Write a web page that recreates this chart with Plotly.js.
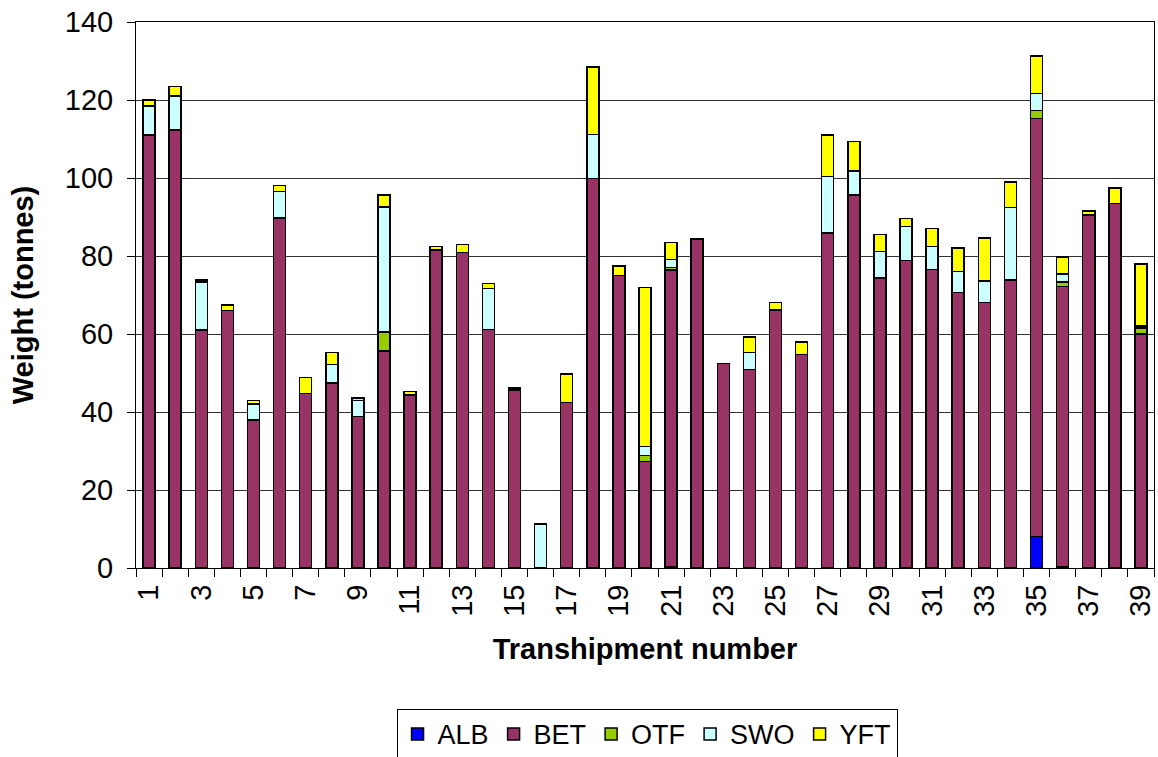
<!DOCTYPE html>
<html>
<head>
<meta charset="utf-8">
<script src="https://cdn.plot.ly/plotly-3.0.1.min.js"></script>
<style>html,body{margin:0;padding:0;background:#fff;}#chart{width:1158px;height:757px;}</style>
</head>
<body>
<div id="chart"></div>
<script>
const transhipments = [1,2,3,4,5,6,7,8,9,10,11,12,13,14,15,16,17,18,19,20,21,22,23,24,25,26,27,28,29,30,31,32,33,34,35,36,37,38,39];
const ALB = [0,0,0,0,0,0,0,0,0,0,0,0,0,0,0,0,0,0,0,0,0.4,0,0,0,0,0,0,0,0,0,0,0,0,0,8.1,0.4,0,0,0];
const BET = [111,112.3,61,66,38,89.8,44.7,47.5,38.9,55.7,44.3,81.5,80.9,61.2,45.6,0,42.4,99.9,75,27.3,76,84.4,52.5,50.9,66.2,54.8,85.9,95.6,74.3,78.8,76.6,70.6,68.1,73.9,107.2,71.8,90.5,93.5,60];
const OTF = [0,0,0,0,0,0,0,0,0,4.8,0,0,0,0,0.6,0,0,0,0,1.6,0.7,0,0,0,0,0,0,0,0,0,0,0,0,0,2,1.1,0,0,1.5];
const SWO = [7.5,8.7,12.3,0,4.1,6.7,0,4.7,4,32.1,0,0,0,10.5,0,11.3,0,11.2,0,2.3,2,0,0,4.4,0,0,14.5,6.2,6.8,8.8,5.9,5.4,5.5,18.6,4.4,2.1,0,0,0.5];
const YFT = [1.5,2.5,0.6,1.4,0.9,1.6,4.1,3.1,0.7,3,0.9,0.9,2,1.2,0,0,7.4,17.3,2.4,40.7,4.4,0,0,3.9,1.9,3.2,10.6,7.5,4.4,2,4.5,6.1,11,6.5,9.6,4.3,1.1,3.9,15.9];
const tickLabels = ["1","3","5","7","9","11","13","15","17","19","21","23","25","27","29","31","33","35","37","39"];
const tickPositions = [1,3,5,7,9,11,13,15,17,19,21,23,25,27,29,31,33,35,37,39];
const boundaries = [0.5,1.5,2.5,3.5,4.5,5.5,6.5,7.5,8.5,9.5,10.5,11.5,12.5,13.5,14.5,15.5,16.5,17.5,18.5,19.5,20.5,21.5,22.5,23.5,24.5,25.5,26.5,27.5,28.5,29.5,30.5,31.5,32.5,33.5,34.5,35.5,36.5,37.5,38.5,39.5];

const series = [
  {name:'ALB', y:ALB, color:'#0000FF'},
  {name:'BET', y:BET, color:'#993366'},
  {name:'OTF', y:OTF, color:'#99CC00'},
  {name:'SWO', y:SWO, color:'#CCFFFF'},
  {name:'YFT', y:YFT, color:'#FFFF00'}
];
const font = 'Liberation Sans, Arial, sans-serif';
const traces = series.map(s => ({
  type:'bar', name:s.name, x:transhipments, y:s.y,
  marker:{color:s.color, line:{color:'#000', width:1.5}},
  hoverinfo:'x+y+name'
}));

const layout = {
  width:1158, height:757,
  barmode:'stack', bargap:0.54,
  margin:{l:136, r:4, t:22, b:189, autoexpand:false},
  paper_bgcolor:'#fff', plot_bgcolor:'#fff',
  font:{family:font, size:27, color:'#000'},
  xaxis:{
    range:[0.5,39.5], tickmode:'array', tickvals:tickPositions, ticktext:tickLabels,
    tickangle:-90, ticks:'', showgrid:false, zeroline:false,
    showline:true, linecolor:'#000', linewidth:1, mirror:true,
    tickfont:{size:29}, ticklabelstandoff:4,
    minor:{tickmode:'array', tickvals:boundaries, ticks:'outside', ticklen:8, tickcolor:'#000', tickwidth:1, showgrid:false},
    title:{text:'Transhipment number', font:{size:29, family:font, weight:'bold'}, standoff:22},
    automargin:false
  },
  yaxis:{
    range:[0,140], dtick:20, tick0:0, ticks:'outside', ticklen:8, tickcolor:'#000',
    showgrid:true, gridcolor:'#333', gridwidth:1, zeroline:false,
    showline:true, linecolor:'#000', linewidth:1, mirror:true,
    tickfont:{size:29}, ticklabelstandoff:8,
    title:{text:'Weight (tonnes)', font:{size:29, family:font, weight:'bold'}, standoff:22},
    automargin:false
  },
  legend:{
    orientation:'h', x:0.502, xanchor:'center', y:-0.258, yanchor:'top',
    bordercolor:'#000', borderwidth:1, bgcolor:'#fff',
    font:{size:27}, traceorder:'normal', itemclick:false
  },
  showlegend:true
};
Plotly.newPlot('chart', traces, layout, {displayModeBar:false, staticPlot:true});
</script>
</body>
</html>
